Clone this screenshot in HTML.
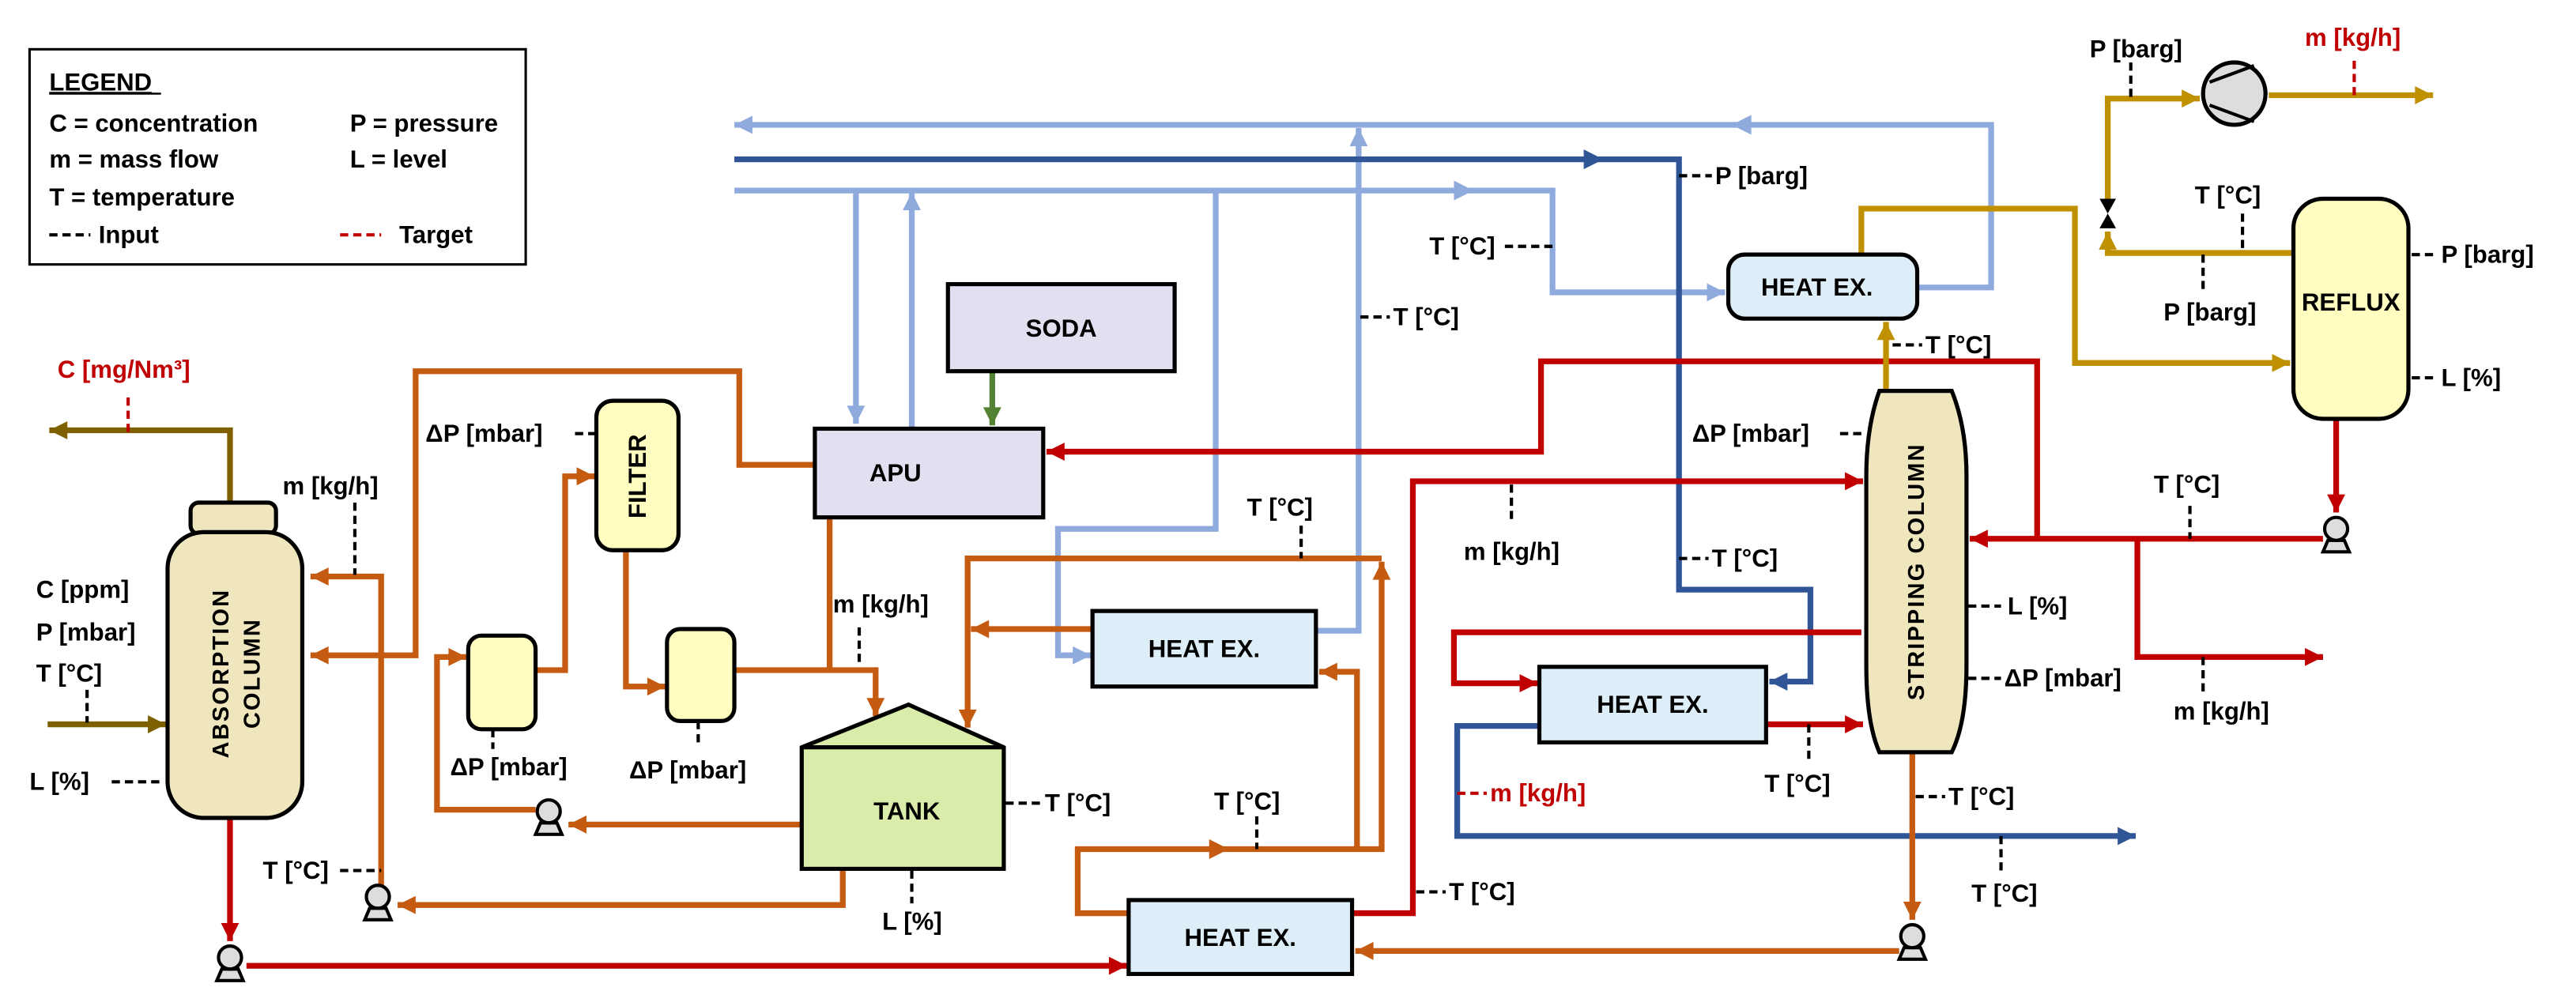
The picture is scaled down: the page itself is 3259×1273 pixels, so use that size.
<!DOCTYPE html>
<html><head><meta charset="utf-8"><style>
html,body{margin:0;padding:0;background:#fff;}
svg{display:block;}
text{font-family:"Liberation Sans",Arial,sans-serif;font-weight:bold;font-size:15px;fill:#000;}
.r{fill:#c00000;}
.c{text-anchor:middle;}
.ln{fill:none;stroke-width:3.5;stroke-linejoin:miter;}
.o{stroke:#c55a11;} .rd{stroke:#c00000;} .lb{stroke:#8faadc;} .db{stroke:#2f5597;} .ol{stroke:#7f6000;} .g{stroke:#bf9000;} .gr{stroke:#548235;}
.d{stroke:#000;stroke-width:2;stroke-dasharray:5,3;fill:none;}
.dr{stroke:#c00000;stroke-width:2;stroke-dasharray:5,3;fill:none;}
.box{stroke:#000;stroke-width:2.5;}
</style></head><body>
<svg width="3259" height="1273" viewBox="0 0 1568 612.5" preserveAspectRatio="none" xmlns="http://www.w3.org/2000/svg">
<defs>
<marker id="ao" viewBox="0 0 10 10" refX="10" refY="5" markerWidth="12" markerHeight="11" markerUnits="userSpaceOnUse" orient="auto"><path d="M0,0L10,5L0,10z" fill="#c55a11"/></marker>
<marker id="ar" viewBox="0 0 10 10" refX="10" refY="5" markerWidth="12" markerHeight="11" markerUnits="userSpaceOnUse" orient="auto"><path d="M0,0L10,5L0,10z" fill="#c00000"/></marker>
<marker id="alb" viewBox="0 0 10 10" refX="10" refY="5" markerWidth="12" markerHeight="11" markerUnits="userSpaceOnUse" orient="auto"><path d="M0,0L10,5L0,10z" fill="#8faadc"/></marker>
<marker id="adb" viewBox="0 0 10 10" refX="10" refY="5" markerWidth="12" markerHeight="11" markerUnits="userSpaceOnUse" orient="auto"><path d="M0,0L10,5L0,10z" fill="#2f5597"/></marker>
<marker id="aol" viewBox="0 0 10 10" refX="10" refY="5" markerWidth="12" markerHeight="11" markerUnits="userSpaceOnUse" orient="auto"><path d="M0,0L10,5L0,10z" fill="#7f6000"/></marker>
<marker id="ag" viewBox="0 0 10 10" refX="10" refY="5" markerWidth="12" markerHeight="11" markerUnits="userSpaceOnUse" orient="auto"><path d="M0,0L10,5L0,10z" fill="#bf9000"/></marker>
<marker id="agr" viewBox="0 0 10 10" refX="10" refY="5" markerWidth="12" markerHeight="11" markerUnits="userSpaceOnUse" orient="auto"><path d="M0,0L10,5L0,10z" fill="#548235"/></marker>
</defs>

<!-- Legend -->
<rect x="18" y="30" width="302" height="131" fill="#fff" stroke="#000" stroke-width="1.5"/>
<text x="30" y="55" text-decoration="underline">LEGEND</text>
<line x1="30" y1="57" x2="98" y2="57" stroke="#000" stroke-width="1.2"/>
<text x="30" y="80">C = concentration</text><text x="213" y="80">P = pressure</text>
<text x="30" y="102">m = mass flow</text><text x="213" y="102">L = level</text>
<text x="30" y="125">T  = temperature</text>
<line x1="30" y1="143" x2="55" y2="143" class="d"/><text x="60" y="148">Input</text>
<line x1="207" y1="143" x2="232" y2="143" class="dr"/><text x="243" y="148">Target</text>

<!-- Light blue lines -->
<polyline class="ln lb" points="1167,175 1212,175 1212,76 447,76" marker-end="url(#alb)"/>
<path d="M1054,76 L1066,70 L1066,82z" fill="#8faadc"/>
<polyline class="ln lb" points="447,116 945,116 945,178 1050,178" marker-end="url(#alb)"/>
<path d="M897,116 L885,110 L885,122z" fill="#8faadc"/>
<polyline class="ln lb" points="521,116 521,258" marker-end="url(#alb)"/>
<polyline class="ln lb" points="555,261 555,117" marker-end="url(#alb)"/>
<polyline class="ln lb" points="740,116 740,322 644,322 644,399 664,399" marker-end="url(#alb)"/>
<polyline class="ln lb" points="801,384 827,384 827,78" marker-end="url(#alb)"/>

<!-- Dark blue -->
<polyline class="ln db" points="447,97 1022,97 1022,359 1102,359 1102,415 1077,415" marker-end="url(#adb)"/>
<path d="M976,97 L964,91 L964,103z" fill="#2f5597"/>
<polyline class="ln db" points="937,442 887,442 887,509 1300,509" marker-end="url(#adb)"/>

<!-- Red -->
<polyline class="ln rd" points="1240,328 1240,220 938,220 938,275 637,275" marker-end="url(#ar)"/>
<polyline class="ln rd" points="1414,328 1199,328" marker-end="url(#ar)"/>
<polyline class="ln rd" points="1301,328 1301,400 1414,400" marker-end="url(#ar)"/>
<polyline class="ln rd" points="1422,255 1422,312" marker-end="url(#ar)"/>
<polyline class="ln rd" points="823,556 860,556 860,293 1134,293" marker-end="url(#ar)"/>
<polyline class="ln rd" points="1133,385 885,385 885,416 936,416" marker-end="url(#ar)"/>
<polyline class="ln rd" points="1075,441 1134,441" marker-end="url(#ar)"/>
<polyline class="ln rd" points="140,498 140,573" marker-end="url(#ar)"/>
<polyline class="ln rd" points="150,588 686,588" marker-end="url(#ar)"/>

<!-- Orange -->
<polyline class="ln o" points="1164,458 1164,560" marker-end="url(#ao)"/>
<polyline class="ln o" points="1156,579 825,579" marker-end="url(#ao)"/>
<polyline class="ln o" points="687,556 656,556 656,517 841,517 841,342" marker-end="url(#ao)"/>
<path d="M748,517 L736,511 L736,523z" fill="#c55a11"/>
<polyline class="ln o" points="826,517 826,409 803,409" marker-end="url(#ao)"/>
<polyline class="ln o" points="841,340 589,340 589,443" marker-end="url(#ao)"/>
<polyline class="ln o" points="665,383 591,383" marker-end="url(#ao)"/>
<polyline class="ln o" points="505,315 505,408"/>
<polyline class="ln o" points="447,408 533,408 533,436" marker-end="url(#ao)"/>
<polyline class="ln o" points="496,283 450,283 450,226 253,226 253,399 189,399" marker-end="url(#ao)"/>
<polyline class="ln o" points="232,540 232,351 189,351" marker-end="url(#ao)"/>
<polyline class="ln o" points="513,529 513,551 242,551" marker-end="url(#ao)"/>
<polyline class="ln o" points="488,502 346,502" marker-end="url(#ao)"/>
<polyline class="ln o" points="326,493 266,493 266,400 284,400" marker-end="url(#ao)"/>
<polyline class="ln o" points="326,408 344,408 344,290 362,290" marker-end="url(#ao)"/>
<polyline class="ln o" points="381,335 381,418 405,418" marker-end="url(#ao)"/>

<!-- Olive -->
<polyline class="ln ol" points="140,306 140,262 30,262" marker-end="url(#aol)"/>
<polyline class="ln ol" points="29,441 101,441" marker-end="url(#aol)"/>

<!-- Gold -->
<polyline class="ln g" points="1148,237 1148,196" marker-end="url(#ag)"/>
<polyline class="ln g" points="1133,155 1133,127 1263,127 1263,221 1394,221" marker-end="url(#ag)"/>
<polyline class="ln g" points="1395,154 1283,154 1283,141" marker-end="url(#ag)"/>
<polyline class="ln g" points="1283,122 1283,60 1339,60" marker-end="url(#ag)"/>
<polyline class="ln g" points="1381,58 1481,58" marker-end="url(#ag)"/>
<path d="M1278,121 L1288,121 L1283,130z M1278,139 L1288,139 L1283,130z" fill="#000"/>

<!-- Green -->
<polyline class="ln gr" points="604,227 604,259" marker-end="url(#agr)"/>

<!-- Equipment -->
<rect x="577" y="173" width="138" height="53" fill="#e1dff0" class="box"/>
<text x="646" y="205" class="c">SODA</text>
<rect x="496" y="261" width="139" height="54" fill="#e1dff0" class="box"/>
<text x="545" y="293" class="c">APU</text>
<rect x="665" y="372" width="136" height="46" fill="#ddeef8" class="box"/>
<text x="733" y="400" class="c">HEAT EX.</text>
<rect x="937" y="406" width="138" height="46" fill="#ddeef8" class="box"/>
<text x="1006" y="434" class="c">HEAT EX.</text>
<rect x="687" y="548" width="136" height="45" fill="#ddeef8" class="box"/>
<text x="755" y="576" class="c">HEAT EX.</text>
<rect x="1052" y="155" width="115" height="39" rx="10" fill="#ddeef8" class="box"/>
<text x="1106" y="180" class="c">HEAT EX.</text>
<path d="M488,455 L553,429 L611,455 L611,529 L488,529z" fill="#d9ecaa" class="box"/>
<line x1="488" y1="455" x2="611" y2="455" stroke="#000" stroke-width="2.5"/>
<text x="552" y="499" class="c">TANK</text>
<rect x="363" y="244" width="50" height="91" rx="10" fill="#fffdc0" class="box"/>
<text transform="translate(393,290) rotate(-90)" class="c">FILTER</text>
<rect x="285" y="387" width="41" height="57" rx="8" fill="#fffdc0" class="box"/>
<rect x="406" y="383" width="41" height="56" rx="8" fill="#fffdc0" class="box"/>
<rect x="116" y="306" width="52" height="19" rx="5" fill="#efe6be" class="box"/>
<rect x="102" y="324" width="82" height="174" rx="22" fill="#efe6be" class="box"/>
<text transform="translate(139,410) rotate(-90)" class="c" style="font-size:14px;letter-spacing:1px">ABSORPTION</text>
<text transform="translate(158,410) rotate(-90)" class="c" style="font-size:14px;letter-spacing:1px">COLUMN</text>
<path d="M1144,238 L1188,238 Q1197,260 1197,290 L1197,405 Q1197,440 1188,458 L1144,458 Q1136,440 1136,405 L1136,290 Q1136,260 1144,238z" fill="#efe6be" class="box"/>
<text transform="translate(1171,348) rotate(-90)" class="c" style="font-size:14px;letter-spacing:1px">STRIPPING COLUMN</text>
<rect x="1396" y="121" width="70" height="134" rx="18" fill="#fffdc0" class="box"/>
<text x="1431" y="189" class="c">REFLUX</text>
<circle cx="1360" cy="57" r="19" fill="#ddd" stroke="#000" stroke-width="2.5"/>
<line x1="1345" y1="50" x2="1372" y2="40" stroke="#000" stroke-width="2"/>
<line x1="1345" y1="64" x2="1372" y2="74" stroke="#000" stroke-width="2"/>

<!-- Pumps -->
<g fill="#ddd" stroke="#000" stroke-width="2">
<path d="M132,597 L148,597 L145,590 L135,590z"/><circle cx="140" cy="583" r="7"/>
<path d="M222,560 L238,560 L235,553 L225,553z"/><circle cx="230" cy="546" r="7"/>
<path d="M326,508 L342,508 L339,501 L329,501z"/><circle cx="334" cy="494" r="7"/>
<path d="M1156,584 L1172,584 L1169,577 L1159,577z"/><circle cx="1164" cy="570" r="7"/>
<path d="M1414,336 L1430,336 L1427,329 L1417,329z"/><circle cx="1422" cy="322" r="7"/>
</g>

<!-- Sensor labels -->
<text x="35" y="230" class="r">C [mg/Nm³]</text><line x1="78" y1="242" x2="78" y2="265" class="dr"/>
<text x="172" y="301">m [kg/h]</text><line x1="216" y1="306" x2="216" y2="350" class="d"/>
<text x="22" y="364">C [ppm]</text><text x="22" y="390">P [mbar]</text><text x="22" y="415">T [°C]</text>
<line x1="53" y1="420" x2="53" y2="440" class="d"/>
<text x="18" y="481">L [%]</text><line x1="68" y1="476" x2="100" y2="476" class="d"/>
<text x="160" y="535">T [°C]</text><line x1="207" y1="530" x2="232" y2="530" class="d"/>
<text x="259" y="269">ΔP [mbar]</text><line x1="350" y1="264" x2="363" y2="264" class="d"/>
<text x="274" y="472">ΔP [mbar]</text><line x1="300" y1="444" x2="300" y2="456" class="d"/>
<text x="383" y="474">ΔP [mbar]</text><line x1="425" y1="439" x2="425" y2="455" class="d"/>
<text x="507" y="373">m [kg/h]</text><line x1="523" y1="382" x2="523" y2="406" class="d"/>
<line x1="612" y1="489" x2="634" y2="489" class="d"/><text x="636" y="494">T [°C]</text>
<text x="537" y="566">L [%]</text><line x1="555" y1="530" x2="555" y2="550" class="d"/>
<text x="759" y="314">T [°C]</text><line x1="792" y1="320" x2="792" y2="340" class="d"/>
<text x="739" y="493">T [°C]</text><line x1="765" y1="497" x2="765" y2="517" class="d"/>
<text x="870" y="155">T [°C]</text><line x1="916" y1="150" x2="945" y2="150" class="d"/>
<line x1="828" y1="193" x2="846" y2="193" class="d"/><text x="848" y="198">T [°C]</text>
<text x="891" y="341">m [kg/h]</text><line x1="920" y1="295" x2="920" y2="318" class="d"/>
<line x1="862" y1="543" x2="880" y2="543" class="d"/><text x="882" y="548">T [°C]</text>
<line x1="887" y1="483" x2="905" y2="483" class="dr"/><text x="907" y="488" class="r">m [kg/h]</text>
<text x="1074" y="482">T [°C]</text><line x1="1101" y1="441" x2="1101" y2="465" class="d"/>
<line x1="1166" y1="485" x2="1184" y2="485" class="d"/><text x="1186" y="490">T [°C]</text>
<text x="1200" y="549">T [°C]</text><line x1="1218" y1="509" x2="1218" y2="530" class="d"/>
<line x1="1198" y1="369" x2="1218" y2="369" class="d"/><text x="1222" y="374">L [%]</text>
<line x1="1198" y1="413" x2="1218" y2="413" class="d"/><text x="1220" y="418">ΔP [mbar]</text>
<text x="1323" y="438">m [kg/h]</text><line x1="1341" y1="400" x2="1341" y2="423" class="d"/>
<text x="1030" y="269">ΔP [mbar]</text><line x1="1120" y1="264" x2="1136" y2="264" class="d"/>
<line x1="1022" y1="340" x2="1040" y2="340" class="d"/><text x="1042" y="345">T [°C]</text>
<line x1="1022" y1="107" x2="1042" y2="107" class="d"/><text x="1044" y="112">P [barg]</text>
<line x1="1152" y1="210" x2="1170" y2="210" class="d"/><text x="1172" y="215">T [°C]</text>
<text x="1311" y="300">T [°C]</text><line x1="1333" y1="308" x2="1333" y2="328" class="d"/>
<text x="1272" y="35">P [barg]</text><line x1="1297" y1="38" x2="1297" y2="60" class="d"/>
<text x="1403" y="28" class="r">m [kg/h]</text><line x1="1433" y1="37" x2="1433" y2="58" class="dr"/>
<text x="1336" y="124">T [°C]</text><line x1="1365" y1="130" x2="1365" y2="153" class="d"/>
<text x="1317" y="195">P [barg]</text><line x1="1341" y1="155" x2="1341" y2="177" class="d"/>
<line x1="1468" y1="155" x2="1484" y2="155" class="d"/><text x="1486" y="160">P [barg]</text>
<line x1="1468" y1="230" x2="1484" y2="230" class="d"/><text x="1486" y="235">L [%]</text>
</svg>
</body></html>
